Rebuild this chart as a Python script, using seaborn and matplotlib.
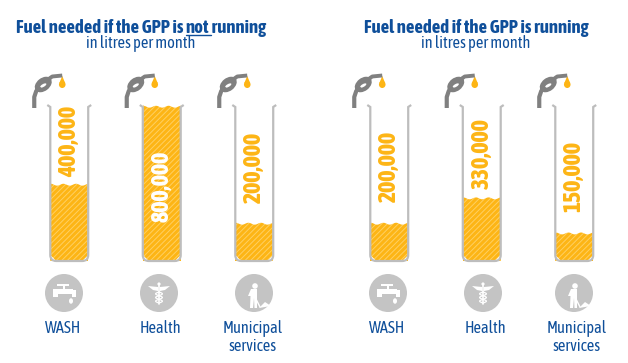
import matplotlib
matplotlib.use('Agg')
import matplotlib.pyplot as plt
from matplotlib.patches import Circle, Ellipse, PathPatch, Polygon, Rectangle
from matplotlib.path import Path
import numpy as np
import pandas as pd
import seaborn as sns

categories = ['WASH', 'Health', 'Municipal\nservices']
not_running = [400000, 800000, 200000]
running = [200000, 330000, 150000]
not_running_labels = ['400,000', '800,000', '200,000']
running_labels = ['200,000', '330,000', '150,000']
title_start = 'Fuel needed if the GPP is '
title_not = 'not'
title_end = ' running'
title_right = 'Fuel needed if the GPP is running'
subtitle = 'in litres per month'

BLUE = '#0f4f9a'
AMBER = '#fdb515'
STRIPE = '#ffd062'
GREY = '#c4c4c4'
PUMP = '#808080'
W, H = 628, 363
FONTS = ['Asap Condensed', 'Encode Sans Condensed', 'Liberation Sans', 'DejaVu Sans']

sns.set_theme(style='white')
plt.rcParams['font.family'] = FONTS
plt.rcParams['hatch.linewidth'] = 0.7
plt.rcParams['hatch.color'] = STRIPE

fig = plt.figure(figsize=(W / 100, H / 100), dpi=100)

# overlay in pixel coordinates for the pictograms and text
bg = fig.add_axes([0, 0, 1, 1], zorder=5)
bg.set_xlim(0, W)
bg.set_ylim(H, 0)
bg.axis('off')
bg.patch.set_alpha(0)


def pump(cx):
    x = cx - 69
    bg.plot([x + 34, x + 34, x + 36, x + 40], [108, 97, 91, 87], color=PUMP, lw=3,
            solid_capstyle='butt', solid_joinstyle='round')
    bg.plot([x + 47, x + 52, x + 62], [80, 76.5, 75.5], color=PUMP, lw=2.8, solid_capstyle='butt')
    bg.add_patch(Ellipse((x + 43, 84.5), 19, 13, angle=-38, color=PUMP, lw=0))
    bg.add_patch(Ellipse((x + 43, 85.5), 7, 2.8, angle=-30, color='white', lw=0))
    bg.add_patch(Ellipse((x + 62, 84.5), 6.6, 7, color=AMBER, lw=0))
    bg.add_patch(Polygon([(x + 59.1, 83), (x + 62, 76), (x + 64.9, 83)], color=AMBER, lw=0))


def tap(cx, cy):
    bg.add_patch(Rectangle((cx - 11, cy - 4), 20, 5, color='white', lw=0))
    bg.add_patch(Rectangle((cx - 11, cy - 4), 5, 8, color='white', lw=0))
    bg.add_patch(Rectangle((cx - 1.5, cy - 8), 2.5, 4, color='white', lw=0))
    bg.add_patch(Rectangle((cx - 7, cy - 9), 12, 1.8, color='white', lw=0))
    bg.add_patch(Rectangle((cx + 3, cy - 3), 9, 3.5, color='white', lw=0))
    bg.add_patch(Rectangle((cx + 8, cy - 3), 4.4, 7, color='white', lw=0))
    bg.add_patch(Ellipse((cx + 7, cy + 8), 4, 5.5, color='white', lw=0))


def caduceus(cx, cy):
    bg.add_patch(Polygon([(cx - 11, cy - 7), (cx - 1, cy - 6), (cx - 1, cy - 2), (cx - 6, cy - 3)], color='white', lw=0))
    bg.add_patch(Polygon([(cx + 11, cy - 7), (cx + 1, cy - 6), (cx + 1, cy - 2), (cx + 6, cy - 3)], color='white', lw=0))
    bg.add_patch(Circle((cx, cy - 9), 1.6, color='white', lw=0))
    bg.plot([cx, cx], [cy - 9, cy + 11], color='white', lw=1.2)
    t = np.linspace(0, 3 * np.pi, 40)
    bg.plot(cx + 3.4 * np.sin(t), np.linspace(cy - 1, cy + 10, 40), color='white', lw=0.9)
    bg.plot(cx - 3.4 * np.sin(t), np.linspace(cy - 1, cy + 10, 40), color='white', lw=0.9)


def digger(cx, cy):
    bg.add_patch(Circle((cx + 1, cy - 7), 2.8, color='white', lw=0))
    bg.add_patch(Polygon([(cx - 3, cy - 4), (cx + 3, cy - 4), (cx + 3, cy + 15), (cx + 0.5, cy + 15),
                          (cx, cy + 5), (cx - 1, cy + 15), (cx - 4, cy + 15), (cx - 3.5, cy + 3), (cx - 6, cy + 3)],
                         color='white', lw=0))
    bg.plot([cx - 1, cx + 6], [cy, cy + 14], color='white', lw=1)
    bg.add_patch(Polygon([(cx + 5, cy + 15), (cx + 11, cy + 9), (cx + 17, cy + 13)], color='white', lw=0))


icons = [tap, caduceus, digger]


def panel(left, values, value_labels, gaps, icon_x, name_x):
    ax = fig.add_axes([left / W, 1 - 261 / H, 277.5 / W, 156 / H], zorder=2)
    df = pd.DataFrame({'category': categories, 'litres': values})
    sns.barplot(data=df, x='category', y='litres', color=AMBER, width=0.41, saturation=1, ax=ax)
    ax.set_xlim(-0.5, 2.5)
    ax.set_ylim(0, 800000)
    ax.axis('off')
    for i, bar in enumerate(ax.patches):
        bar.set_hatch('//////')
        bar.set_edgecolor(STRIPE)
        bar.set_linewidth(0)
        x0, w = bar.get_x(), bar.get_width()
        top = bar.get_height()
        # wavy surface cut out of the bar top
        xs = np.linspace(x0, x0 + w, 40)
        amp = 800000 / 156 * 1.2
        ys = top - amp + amp * np.cos((xs - x0) / w * 6 * np.pi) * 0.8
        ax.fill_between(xs, ys, top + amp, color='white', lw=0, zorder=3)
        # tube outline in pixels
        cpx = ax.transData.transform((i, 0))[0] * W / fig.bbox.width
        hw = w / 3 * 277.5 / 2
        verts = [(cpx - hw - 3, 105), (cpx - hw, 107), (cpx - hw, 255), (cpx - hw, 261), (cpx - hw + 6, 261),
                 (cpx + hw - 6, 261), (cpx + hw, 261), (cpx + hw, 255), (cpx + hw, 107), (cpx + hw + 3, 105)]
        codes = [Path.MOVETO, Path.LINETO, Path.LINETO, Path.CURVE3, Path.CURVE3,
                 Path.LINETO, Path.CURVE3, Path.CURVE3, Path.LINETO, Path.LINETO]
        # corners of the fill follow the tube
        for sgn in (-1, 1):
            corner = [(cpx + sgn * hw, 255), (cpx + sgn * hw, 261), (cpx + sgn * (hw - 6), 261)]
            ccodes = [Path.MOVETO, Path.CURVE3, Path.CURVE3, Path.CLOSEPOLY]
            bg.add_patch(PathPatch(Path(corner + [corner[0]], ccodes), fc='white', ec='none', zorder=0.5))
        bg.add_patch(PathPatch(Path(verts, codes), fc='none', ec='#bdbdbd', lw=1.6))
        fill_top = H - ax.transData.transform((0, top))[1] * H / fig.bbox.height
        colour = 'white' if top >= 800000 else AMBER
        bg.text(cpx, fill_top - gaps[i], value_labels[i], rotation=90, ha='center', va='bottom',
                color=colour, fontsize=17, fontweight='heavy')
        pump(cpx)
        bg.add_patch(Circle((icon_x[i], 293), 19, color=GREY, lw=0))
        icons[i](icon_x[i], 293)
        bg.text(name_x[i], 320, categories[i], ha='center', va='top', color=BLUE, fontsize=11.8, linespacing=1.05)


panel(23, not_running, not_running_labels, [6, -117, 19], [64, 159, 254], [63, 160, 253])
panel(343, running, running_labels, [20, 8, 20], [388, 483, 574], [387, 485, 577])

# left title is laid out piece by piece so "not" can be underlined
renderer = fig.canvas.get_renderer()
pieces = [title_start, title_not, title_end]
sizes = []
for piece in pieces:
    probe = bg.text(0, 0, piece.replace(' ', '\u00a0'), fontsize=13.5, fontweight='bold')
    sizes.append(probe.get_window_extent(renderer).width * W / fig.bbox.width)
    probe.remove()
x = 141 - sum(sizes) / 2
for piece, size in zip(pieces, sizes):
    bg.text(x, 28, piece.replace(' ', '\u00a0'), ha='left', va='center', color=BLUE, fontsize=13.5, fontweight='bold')
    if piece == title_not:
        bg.plot([x, x + size + 2], [35, 35], color=BLUE, lw=1)
    x += size
bg.text(476, 28, title_right, ha='center', va='center', color=BLUE, fontsize=13.5, fontweight='bold')
bg.text(141, 44, subtitle, ha='center', va='center', color=BLUE, fontsize=11.8)
bg.text(476, 44, subtitle, ha='center', va='center', color=BLUE, fontsize=11.8)

fig.savefig('out.png', dpi=100)
